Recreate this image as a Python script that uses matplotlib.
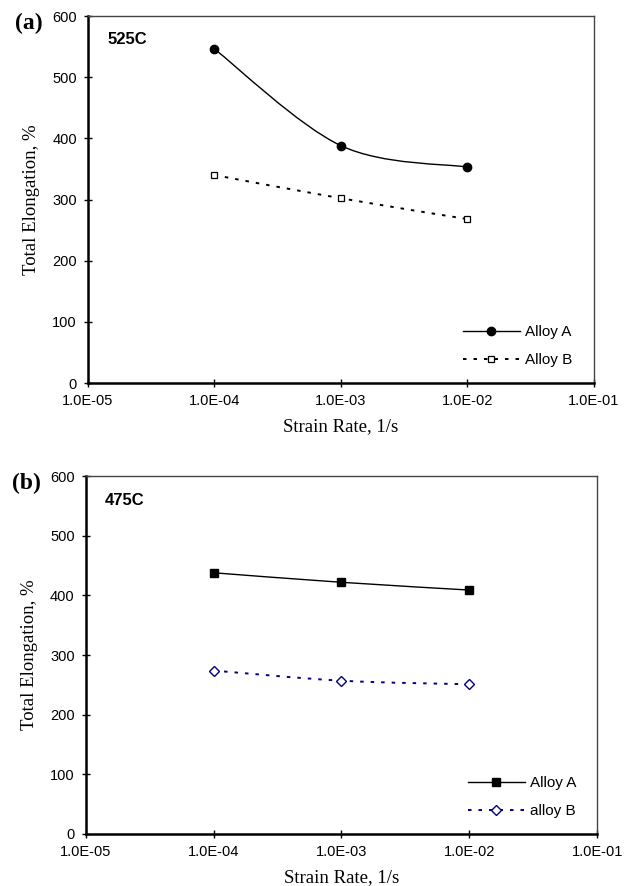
import matplotlib
matplotlib.use("Agg")
import matplotlib.pyplot as plt
import numpy as np
from matplotlib.lines import Line2D
from matplotlib.path import Path
from matplotlib.patches import PathPatch

# strain rates (1/s)
rates = [1e-4, 1e-3, 1e-2]

# (a) 525C
a_alloy_a = [546, 388, 353]
a_alloy_b = [340, 302, 268]

# (b) 475C
b_alloy_a = [438, 422, 409]
b_alloy_b = [274, 257, 251]

x_ticks = [1e-5, 1e-4, 1e-3, 1e-2, 1e-1]
x_ticklabels = ["1.0E-05", "1.0E-04", "1.0E-03", "1.0E-02", "1.0E-01"]
y_ticks = [0, 100, 200, 300, 400, 500, 600]

SANS = "Liberation Sans"
SERIF = "Liberation Serif"
NAVY = "#000080"
DOTS = (0, (1.8, 3.6))


def smooth_path(xs, ys):
    """Excel-style smoothed line: Catmull-Rom as cubic Beziers in log-x space."""
    lx = np.log10(xs)
    pts = np.column_stack([lx, ys]).astype(float)
    n = len(pts)
    verts = [pts[0]]
    codes = [Path.MOVETO]
    for i in range(n - 1):
        p0 = pts[i - 1] if i > 0 else pts[i]
        p1, p2 = pts[i], pts[i + 1]
        p3 = pts[i + 2] if i + 2 < n else pts[i + 1]
        c1 = p1 + (p2 - p0) / 6.0
        c2 = p2 - (p3 - p1) / 6.0
        verts += [c1, c2, p2]
        codes += [Path.CURVE4] * 3
    verts = np.array(verts)
    verts[:, 0] = 10 ** verts[:, 0]
    return Path(verts, codes)


def panel(ax, ya, yb, label_b, temp, tag, mk_a, mk_b, col_b, leg_x, temp_y):
    ax.set_xscale("log")
    ax.set_xlim(1e-5, 1e-1)
    ax.set_ylim(0, 600)

    ax.add_patch(PathPatch(smooth_path(rates, ya), fill=False, edgecolor="black",
                           lw=1.0, zorder=2))
    ax.add_patch(PathPatch(smooth_path(rates, yb), fill=False, edgecolor=col_b,
                           lw=1.4, linestyle=DOTS, zorder=2))
    ax.plot(rates, ya, linestyle="none", **mk_a, zorder=3)
    ax.plot(rates, yb, linestyle="none", **mk_b, zorder=3)

    h_a = Line2D([], [], color="black", lw=1.0, **mk_a)
    h_b = Line2D([], [], color=col_b, lw=1.4, linestyle=DOTS, **mk_b)
    ax.legend([h_a, h_b], ["Alloy A", label_b], loc="lower left",
              bbox_to_anchor=(leg_x, 0.027), frameon=False, numpoints=1,
              handlelength=3.7, handletextpad=0.35, labelspacing=0.9,
              borderpad=0.4, borderaxespad=0.0,
              prop={"family": SANS, "size": 11})

    ax.set_xticks(x_ticks)
    ax.set_xticklabels(x_ticklabels)
    ax.xaxis.set_minor_locator(matplotlib.ticker.NullLocator())
    ax.set_yticks(y_ticks)
    ax.tick_params(axis="x", direction="inout", length=6, width=1.0, pad=5)
    ax.tick_params(axis="y", direction="inout", length=6, width=1.0, pad=5)
    for lbl in ax.get_xticklabels() + ax.get_yticklabels():
        lbl.set_family(SANS)
        lbl.set_fontsize(10.5)

    for side in ("left", "bottom"):
        ax.spines[side].set_linewidth(1.8)
        ax.spines[side].set_color("black")
    for side in ("top", "right"):
        ax.spines[side].set_linewidth(1.0)
        ax.spines[side].set_color("#444444")

    ax.set_xlabel("Strain Rate, 1/s", family=SERIF, fontsize=13.5, labelpad=7)
    ax.set_ylabel("Total Elongation, %", family=SERIF, fontsize=13.5, labelpad=9)
    ax.text(0.038, temp_y, temp, transform=ax.transAxes, family=SANS,
            fontweight="bold", fontsize=12, va="center", ha="left")
    ax.text(-0.145, 0.98, tag, transform=ax.transAxes, family=SERIF,
            fontweight="bold", fontsize=17, va="center", ha="left")


fig = plt.figure(figsize=(6.4, 8.86), dpi=100)
ax1 = fig.add_axes([0.1375, 0.5677, 0.7906, 0.4142])
ax2 = fig.add_axes([0.134, 0.0587, 0.799, 0.4039])

panel(ax1, a_alloy_a, a_alloy_b, "Alloy B", "525C", "(a)",
      dict(marker="o", ms=6, mfc="black", mec="black"),
      dict(marker="s", ms=5, mfc="white", mec="black", mew=0.9),
      "black", 0.729, 0.937)
panel(ax2, b_alloy_a, b_alloy_b, "alloy B", "475C", "(b)",
      dict(marker="s", ms=6, mfc="black", mec="black"),
      dict(marker="D", ms=5.2, mfc="white", mec=NAVY, mew=1.0),
      NAVY, 0.736, 0.933)

fig.savefig("out.png", dpi=100)
